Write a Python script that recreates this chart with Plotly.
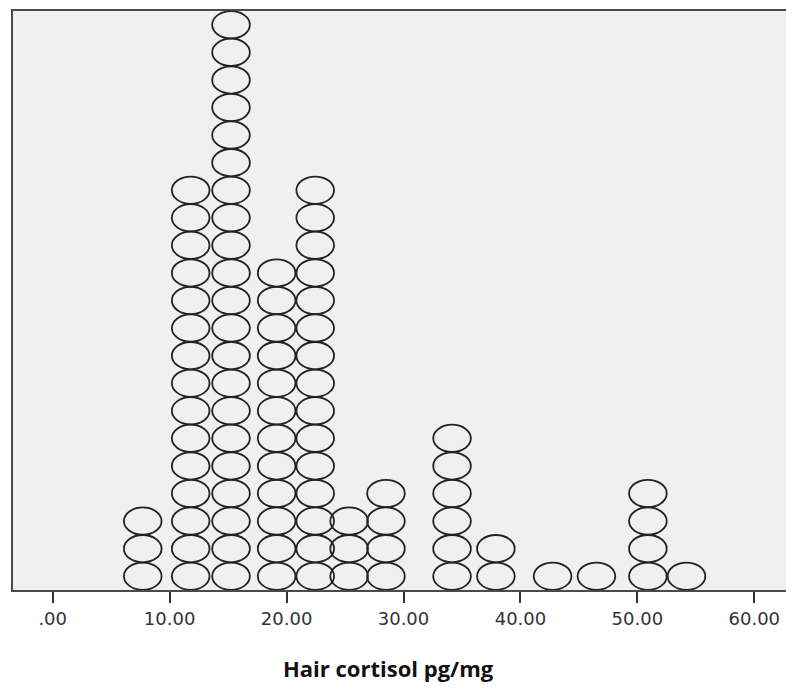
import plotly.graph_objects as go

# Dot-plot data: value of each stacked column and number of cases in it
bin_values = [7.7, 11.8, 15.25, 19.15, 22.45, 25.35, 28.5, 34.15, 37.9, 42.75, 46.5, 50.9, 54.2]
counts = [3, 15, 21, 12, 15, 3, 4, 6, 2, 1, 1, 4, 1]
tick_values = [0, 10, 20, 30, 40, 50, 60]
tick_labels = [".00", "10.00", "20.00", "30.00", "40.00", "50.00", "60.00"]
x_title = "Hair cortisol pg/mg"

DOT_W = 3.22   # ellipse width in x data units
DOT_H = 0.99   # ellipse height in stack units

fig = go.Figure()

xs, ys = [], []
for v, c in zip(bin_values, counts):
    for i in range(c):
        xs.append(v)
        ys.append(i + 0.5)
fig.add_trace(go.Scatter(x=xs, y=ys, mode="markers",
                         marker=dict(size=1, opacity=0), hoverinfo="x",
                         showlegend=False))

shapes = []
for x, y in zip(xs, ys):
    shapes.append(dict(type="circle", xref="x", yref="y",
                       x0=x - DOT_W / 2, x1=x + DOT_W / 2,
                       y0=y - DOT_H / 2, y1=y + DOT_H / 2,
                       line=dict(color="#222222", width=1.8),
                       fillcolor="rgba(0,0,0,0)", layer="above"))

fig.update_layout(
    width=786, height=688,
    margin=dict(l=13, r=0, t=11, b=98),
    paper_bgcolor="white",
    plot_bgcolor="#f0f0f0",
    shapes=shapes,
    showlegend=False,
    xaxis=dict(range=[-3.395, 62.71], tickmode="array",
               tickvals=tick_values, ticktext=tick_labels,
               ticks="outside", ticklen=11, tickwidth=2, tickcolor="#333333",
               showgrid=False, zeroline=False,
               showline=True, linecolor="#4a4a4a", linewidth=2, mirror=True,
               tickfont=dict(family="DejaVu Sans, sans-serif",
                             size=18, color="#333333")),
    yaxis=dict(range=[0, 21.0], showticklabels=False, ticks="",
               showgrid=False, zeroline=False,
               showline=True, linecolor="#4a4a4a", linewidth=2, mirror=False),
    annotations=[dict(text="<b>" + x_title + "</b>", xref="paper", yref="paper",
                      x=(388 - 13) / 773, y=(590 - 668) / 579,
                      xanchor="center", yanchor="middle", showarrow=False,
                      font=dict(family="Open Sans, sans-serif", size=22,
                                color="#111111"))],
)

fig.write_html("out.html",
               config={"displayModeBar": False},
               post_script="document.body.style.margin='0';"
                           "document.body.style.overflow='hidden';")
